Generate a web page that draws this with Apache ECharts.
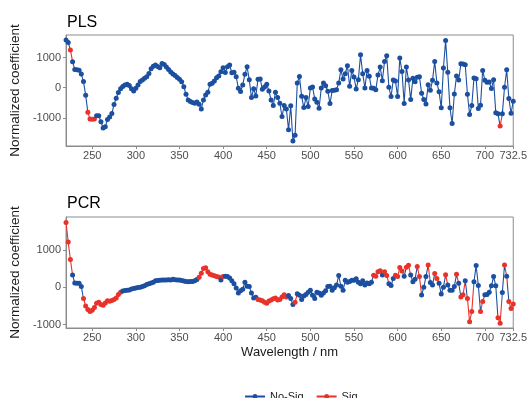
<!DOCTYPE html>
<html>
<head>
<meta charset="utf-8">
<script src="https://cdn.jsdelivr.net/npm/echarts@6/dist/echarts.min.js"></script>
<style>
  html, body { margin: 0; padding: 0; background: #fff; }
  #chart { width: 530px; height: 398px; }
</style>
</head>
<body>
<div id="chart"></div>
<script>
// Spectral sampling: 220 nm to 732.5 nm in 2.5 nm steps
const startNm = 220;
const stepNm = 2.5;

// PLS normalized coefficients (rows of 10 points)
const plsValues = [
  1580, 1500, 1250, 860, 600, 590, 580, 450, 200, -250,        // 220
  -820, -1040, -1050, -1040, -930, -930, -1130, -1340, -1300, -1060, // 245
  -970, -860, -560, -350, -160, -40, 35, 90, 110, 70,          // 270
  -40, -110, -20, 90, 200, 250, 310, 360, 470, 630,            // 295
  710, 750, 700, 660, 800, 770, 680, 600, 520, 450,            // 320
  400, 340, 275, 198, 33, -220, -407, -460, -490, -515,        // 345
  -480, -550, -705, -407, -242, -150, 110, 143, 220, 330,      // 370
  385, 528, 660, 500, 693, 750, 495, 510, 363, -22,            // 395
  -132, 88, 440, 693, 260, -330, -40, -275, 275, 286,          // 420
  -55, 22, 110, -110, -407, -594, -150, -330, -517, -957,      // 445
  -594, -705, -1396, -600, -1770, -1580, 155, 373, -287, -660, // 470
  -330, -627, -11, 22, -375, -484, -682, -11, 155, 66,         // 495
  -121, -528, -99, -88, -66, 155, 594, 286, 462, 726,          // 520
  44, 570, 352, -44, 264, 1089, 462, -11, 572, 374,            // 545
  -11, -22, -66, 418, 682, 231, 869, 1056, 11, -297,           // 570
  253, 220, -297, 979, 539, -528, 682, 253, -396, 308,         // 595
  198, 341, 363, -187, -396, -539, 99, -88, 242, 869,          // 620
  155, -140, -671, 649, 1562, 506, -671, -1188, -209, 385,     // 645
  253, 792, 781, 759, -220, -891, -594, 319, 297, -693,        // 670
  -583, 572, 242, 180, 187, -30, 264, -836, -869, -1276,       // 695
  -869, 11, 594, -363, -850, -451                              // 720
];

// PLS significance flags (1 = Sig, 0 = No-Sig)
const plsSig = [
  0,0,1,0,0,0,0,0,0,0,
  1,1,1,1,0,0,0,0,0,0,
  0,0,0,0,0,0,0,0,0,0,
  0,0,0,0,0,0,0,0,0,0,
  0,0,0,0,0,0,0,0,0,0,
  0,0,0,0,0,0,0,0,0,0,
  0,0,0,0,0,0,0,0,0,0,
  0,0,0,0,0,0,0,0,0,0,
  0,0,0,0,0,0,0,0,0,0,
  0,0,0,0,0,0,0,0,0,0,
  0,0,0,0,0,0,0,0,0,0,
  0,0,0,0,0,0,0,0,0,0,
  0,0,0,0,0,0,0,0,0,0,
  0,0,0,0,0,0,0,0,0,0,
  0,0,0,0,0,0,0,0,0,0,
  0,0,0,0,0,0,0,0,0,0,
  0,0,0,0,0,0,0,0,0,0,
  0,0,0,0,0,0,0,0,0,0,
  0,0,0,0,0,0,0,0,0,0,
  0,0,0,0,0,0,0,0,0,1,
  0,0,0,0,0,0
];

// PCR normalized coefficients (rows of 10 points)
const pcrValues = [
  1750, 1220, 750, 330, 120, 110, 110, 20, -300, -500,         // 220
  -600, -650, -620, -540, -430, -400, -460, -480, -420, -360,  // 245
  -375, -355, -330, -290, -190, -130, -100, -85, -80, -70,     // 270
  -45, -30, -15, -5, 0, 20, 45, 80, 95, 115,                   // 295
  140, 175, 185, 190, 195, 200, 195, 205, 200, 215,            // 320
  205, 200, 195, 185, 170, 160, 150, 155, 160, 175,            // 345
  210, 270, 380, 510, 530, 420, 350, 330, 310, 295,            // 370
  280, 200, 290, 300, 290, 250, 180, 100, -20, -150,           // 395
  -90, -50, 140, 30, 20, -150, -290, -270, -330, -340,         // 420
  -360, -400, -430, -370, -340, -310, -290, -340, -330, -260,  // 445
  -200, -260, -220, -300, -460, -400, -170, -215, -330, -230,  // 470
  -195, -130, -80, -210, -300, -130, -150, -210, -150, -90,    // 495
  20, 30, -80, -10, 60, 320, 30, -80, 190, 140,                // 520
  160, 190, 190, 230, 140, 100, 178, 60, 120, 100,             // 545
  140, 329, 300, 420, 445, 330, 420, 320, 100, 50,             // 570
  240, 329, 290, 533, 440, 300, 540, 596, 330, 150,            // 595
  220, 560, 290, -205, 0, 290, 600, 130, 60, 370,              // 620
  240, 110, -180, 0, 340, 60, -80, -80, 20, 350,               // 645
  110, -260, -200, 180, -300, -930, -650, 150, 590, 50,        // 670
  -650, -380, -200, -190, -130, 40, 290, 40, -820, -970,       // 695
  -140, 600, 300, -380, -570, -450                             // 720
];

// PCR significance flags (1 = Sig, 0 = No-Sig)
const pcrSig = [
  1,1,1,0,0,0,0,0,1,1,
  1,1,1,1,1,1,1,1,1,1,
  1,1,1,1,1,1,0,0,0,0,
  0,0,0,0,0,0,0,0,0,0,
  0,0,0,0,0,0,0,0,0,0,
  0,0,0,0,0,0,0,0,0,0,
  0,1,1,1,1,1,1,1,1,1,
  1,0,1,0,0,0,0,0,0,0,
  0,0,0,0,0,0,0,0,1,1,
  1,1,1,1,1,1,1,1,1,1,
  1,1,0,0,0,1,0,0,0,0,
  0,0,0,0,0,0,0,0,0,0,
  0,0,0,0,0,0,0,0,0,0,
  0,0,0,0,0,0,0,0,0,0,
  0,1,1,1,1,0,1,1,0,0,
  0,1,1,1,1,0,1,1,0,0,
  0,1,1,0,0,0,1,0,0,1,
  1,0,0,0,1,0,0,0,0,1,
  0,1,1,0,1,1,1,0,0,0,
  1,1,0,0,0,0,0,0,1,1,
  0,1,0,1,1,1
];

// Axis ticks
const xTicks = [250, 300, 350, 400, 450, 500, 550, 600, 650, 700, 732.5];
const yTicks = [-1000, 0, 1000];

const groupNames = ['No-Sig', 'Sig'];
const groupColors = ['#1c4f9f', '#e8322a'];

const wavelengths = plsValues.map((_, i) => startNm + stepNm * i);

// Colour pieces along x: each segment takes the colour of its starting point
function runPieces(flags) {
  const pieces = [];
  let a = 0;
  for (let i = 1; i <= flags.length; i++) {
    if (i === flags.length || flags[i] !== flags[a]) {
      const piece = { gte: wavelengths[a], color: groupColors[flags[a]] };
      if (i === flags.length) piece.lte = wavelengths[i - 1] + 1;
      else piece.lt = wavelengths[i];
      pieces.push(piece);
      a = i;
    }
  }
  return pieces;
}

const axisGray = '#8c8c8c';
const labelGray = '#4d4d4d';
const fontFamily = 'Liberation Sans, Arial, sans-serif';

function xAxis(gridIndex, withName) {
  return {
    type: 'value', gridIndex, min: 220, max: 732.5,
    name: withName ? 'Wavelength / nm' : '',
    nameLocation: 'middle', nameGap: 18,
    nameTextStyle: { fontSize: 13, color: '#1a1a1a', fontFamily },
    axisLine: { show: true, onZero: false, lineStyle: { color: axisGray, width: 1 } },
    axisTick: { show: true, length: 3, customValues: xTicks, lineStyle: { color: axisGray } },
    axisLabel: { customValues: xTicks, margin: 4, fontSize: 11, color: labelGray, fontFamily,
      formatter: v => String(v) },
    splitLine: { show: false }
  };
}

function yAxis(gridIndex, min, max) {
  return {
    type: 'value', gridIndex, min, max,
    name: 'Normalized coefficient', nameLocation: 'middle', nameGap: 39,
    nameTextStyle: { fontSize: 13.5, color: '#1a1a1a', fontFamily },
    axisLine: { show: true, onZero: false, lineStyle: { color: axisGray, width: 1 } },
    axisTick: { show: true, length: 3, customValues: yTicks, lineStyle: { color: axisGray } },
    axisLabel: { customValues: yTicks, margin: 5, fontSize: 11, color: labelGray, fontFamily,
      formatter: v => String(v) },
    splitLine: { show: false }
  };
}

function panelSeries(name, values, idx) {
  return {
    type: 'line', name, xAxisIndex: idx, yAxisIndex: idx,
    data: values.map((v, i) => [wavelengths[i], v]),
    symbol: 'circle', symbolSize: 5, showSymbol: true,
    lineStyle: { width: 1.1 },
    emphasis: { disabled: true }, silent: true, z: 3
  };
}

const chart = echarts.init(document.getElementById('chart'), null, { renderer: 'canvas' });
chart.setOption({
  animation: false,
  backgroundColor: '#ffffff',
  title: [
    { text: 'PLS', left: 62, top: 10, textStyle: { fontSize: 16, fontWeight: 'normal', color: '#000', fontFamily } },
    { text: 'PCR', left: 62, top: 191, textStyle: { fontSize: 16, fontWeight: 'normal', color: '#000', fontFamily } }
  ],
  grid: [
    { left: 64, top: 35, width: 452, height: 111, show: true, borderColor: axisGray, borderWidth: 1 },
    { left: 64, top: 217, width: 452, height: 111, show: true, borderColor: axisGray, borderWidth: 1 }
  ],
  xAxis: [xAxis(0, false), xAxis(1, true)],
  yAxis: [yAxis(0, -1935, 1745), yAxis(1, -1095, 1895)],
  visualMap: [
    { type: 'piecewise', show: false, seriesIndex: 0, dimension: 0, pieces: runPieces(plsSig) },
    { type: 'piecewise', show: false, seriesIndex: 1, dimension: 0, pieces: runPieces(pcrSig) }
  ],
  legend: {
    data: groupNames,
    left: 239, top: 386,
    itemWidth: 20, itemHeight: 6, itemGap: 12,
    textStyle: { fontSize: 11, color: '#1a1a1a', fontFamily }
  },
  series: [
    panelSeries('PLS', plsValues, 0),
    panelSeries('PCR', pcrValues, 1),
    { type: 'line', name: groupNames[0], data: [], color: groupColors[0], symbol: 'circle', symbolSize: 5, lineStyle: { width: 2 } },
    { type: 'line', name: groupNames[1], data: [], color: groupColors[1], symbol: 'circle', symbolSize: 5, lineStyle: { width: 2 } }
  ]
});
</script>
</body>
</html>
